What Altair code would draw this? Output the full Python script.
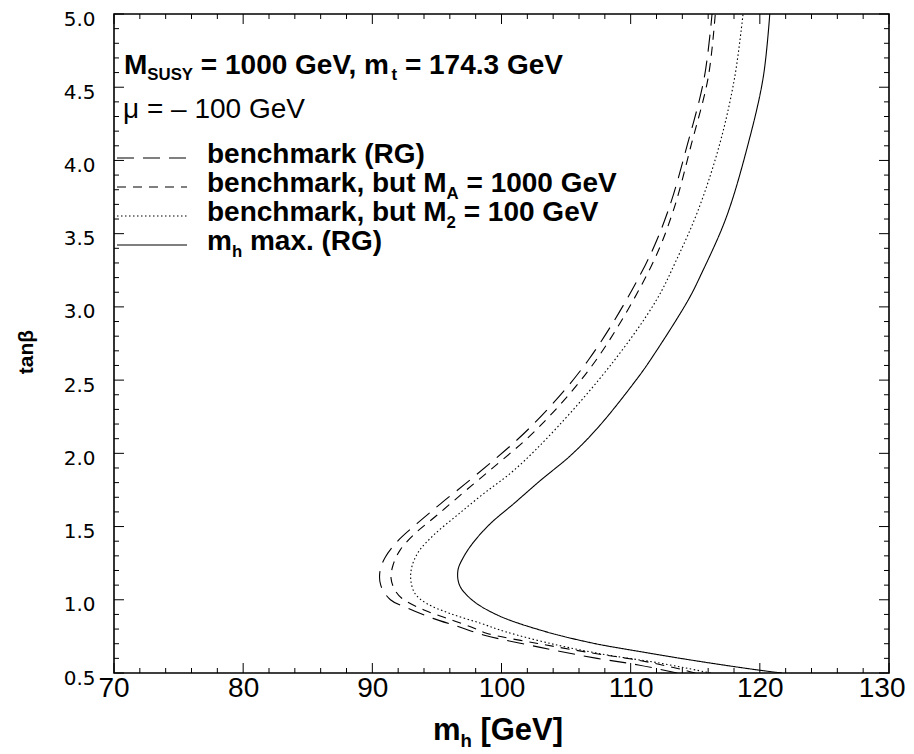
import altair as alt
import pandas as pd

# ---------------- data ----------------
t_bench = [0.5, 0.555, 0.60, 0.675, 0.76, 0.816, 0.873, 0.941, 1.0, 1.10, 1.20, 1.29, 1.395, 1.52, 1.657, 1.85, 2.18, 2.634, 3.28, 3.657, 4.111, 4.566, 5.0]
m_bench = [113.6, 110.6, 107.4, 103.0, 98.6, 96.7, 94.7, 92.8, 91.4, 90.65, 90.6, 91.0, 91.9, 93.45, 95.3, 98.0, 102.25, 106.7, 111.1, 112.9, 114.4, 115.7, 116.3]

t_ma = [0.5, 0.525, 0.584, 0.638, 0.702, 0.77, 0.816, 0.873, 0.930, 1.009, 1.066, 1.146, 1.236, 1.339, 1.452, 1.577, 1.736, 1.884, 2.179, 2.634, 3.28, 3.657, 4.111, 4.566, 5.0]
m_ma = [115.0, 113.9, 110.8, 106.9, 102.8, 98.9, 97.6, 95.8, 94.0, 92.3, 91.75, 91.45, 91.6, 92.15, 93.3, 95.0, 97.1, 99.1, 102.9, 107.3, 111.6, 113.3, 114.7, 116.0, 116.55]

t_m2 = [0.5, 0.57, 0.623, 0.691, 0.782, 0.839, 0.907, 0.975, 1.043, 1.134, 1.225, 1.327, 1.441, 1.577, 1.725, 1.884, 2.179, 2.634, 3.043, 3.316, 3.657, 4.111, 4.566, 5.0]
m_m2 = [116.2, 112.1, 108.2, 104.3, 100.3, 98.4, 96.0, 94.2, 93.3, 92.98, 93.06, 93.57, 94.74, 96.56, 98.62, 100.96, 104.33, 108.73, 111.97, 113.52, 115.21, 116.89, 118.05, 118.70]

t_mh = [0.5, 0.52, 0.577, 0.645, 0.707, 0.793, 0.895, 1.0, 1.10, 1.202, 1.293, 1.395, 1.521, 1.657, 1.816, 1.986, 2.179, 2.498, 2.634, 3.043, 3.225, 3.611, 4.111, 4.566, 5.0]
m_mh = [121.7, 119.9, 115.5, 110.8, 106.9, 103.0, 99.7, 97.7, 96.75, 96.63, 97.07, 97.85, 99.15, 100.96, 103.03, 105.36, 107.5, 110.4, 111.5, 114.43, 115.47, 117.4, 119.09, 120.26, 120.77]

series_keys = ["bench", "ma", "m2", "mhmax"]
legend_labels = [
    [("benchmark (RG)", False)],
    [("benchmark, but M", False), ("A", True), (" = 1000 GeV", False)],
    [("benchmark, but M", False), ("2", True), (" = 100 GeV", False)],
    [("m", False), ("h", True), (" max. (RG)", False)],
]
header1 = [("M", False), ("SUSY", True), (" = 1000 GeV, m", False), ("t", True), (" = 174.3 GeV", False)]
header2 = [("\u03bc = \u2013 100 GeV", False)]
x_title = [("m", False), ("h", True), (" [GeV]", False)]
y_title = "tan\u03b2"

x_major = [70, 80, 90, 100, 110, 120, 130]
x_minor = [v for v in range(72, 130, 2) if v % 10 != 0]
y_major = [0.5, 1.0, 1.5, 2.0, 2.5, 3.0, 3.5, 4.0, 4.5, 5.0]
y_minor = [round(0.5 + 0.1 * i, 1) for i in range(1, 45) if i % 5 != 0]

# ---------------- layout / style ----------------
W, H = 775, 659
X0, X1, Y0, Y1 = 70.0, 130.0, 0.5, 5.0
FONT = "Liberation Sans"
YFONT = "DejaVu Sans"
dash_range = [[17, 9], [9, 7], [1.5, 2.5], [1, 0]]
leg_rows_py = [144, 173, 202, 231]      # pixel rows of the legend samples
leg_sample_px = (3, 73)
leg_text_px = 93


def to_m(px):
    return X0 + px / W * (X1 - X0)


def to_t(py):
    return Y1 - py / H * (Y1 - Y0)


AB = {' ': .278, '(': .333, ')': .333, ',': .278, '.': .278, '=': .584, '[': .333, ']': .333,
      'A': .722, 'G': .778, 'M': .833, 'R': .722, 'S': .667, 'U': .722, 'V': .667, 'Y': .667,
      'a': .556, 'b': .611, 'c': .556, 'e': .556, 'h': .611, 'k': .556, 'm': .889, 'n': .611,
      'r': .389, 't': .333, 'u': .611, 'x': .556}
AR = {' ': .278, '=': .584, 'G': .778, 'e': .556, 'V': .667, '\u03bc': .576}


def tw(s, size, bold=True):
    tab = AB if bold else AR
    return sum(tab.get(c, 0.556) for c in s) * size


def build(parts, x0, y0, size, bold=True, subscale=0.6, subdrop=0.24):
    out = []
    x = x0
    for txt, sub in parts:
        s = size * subscale if sub else size
        y = y0 + (size * subdrop if sub else 0)
        lead = len(txt) - len(txt.lstrip(' '))
        xs_ = x + tw(' ' * lead, s, bold)
        out.append(dict(m=to_m(xs_), t=to_t(y), text=txt.strip(' '), fs=s))
        x += tw(txt, s, bold)
    return out, x - x0


bold_rows = []
r, _ = build(header1, 10, 59.5, 28)
bold_rows += r
for lab, py in zip(legend_labels, leg_rows_py):
    r, _ = build(lab, leg_text_px, py + 5, 28)
    bold_rows += r
reg_rows, _ = build(header2, 9, 103.5, 28, bold=False)
_, wx = build(x_title, 0, 0, 31)
xt_rows, _ = build(x_title, 384 - wx / 2, 726, 31)
bold_rows += xt_rows

rows = []
for k, ts, ms in zip(series_keys, [t_bench, t_ma, t_m2, t_mh], [m_bench, m_ma, m_m2, m_mh]):
    for t, m in zip(ts, ms):
        rows.append(dict(series=k, t=t, m=m))
df = pd.DataFrame(rows)

xs = alt.Scale(domain=[X0, X1], nice=False, zero=False)
ys = alt.Scale(domain=[Y0, Y1], nice=False, zero=False)
dash_scale = alt.Scale(domain=series_keys, range=dash_range)

xa = alt.Axis(values=x_major, ticks=False, tickSize=0, domain=False, grid=False,
              labelFont=FONT, labelFontSize=28, labelColor="black", labelPadding=1,
              labelFlush=True, labelFlushOffset=16, labelOverlap=False, title=None)
ya = alt.Axis(values=y_major, format=".1f", ticks=False, tickSize=0, domain=False, grid=False,
              labelFont=YFONT, labelFontSize=20, labelColor="black", labelPadding=19,
              labelOffset=5, labelFlush=False, labelOverlap=False, title=None)

lines = alt.Chart(df).mark_line(color="black", strokeWidth=1.1, clip=True,
                                interpolate="catmull-rom").encode(
    x=alt.X("m:Q", scale=xs, axis=xa),
    y=alt.Y("t:Q", scale=ys, axis=ya),
    strokeDash=alt.StrokeDash("series:N", scale=dash_scale, legend=None),
    detail="series:N",
    order="t:Q",
)


def xticks(vals, length):
    d = pd.DataFrame({"m": vals})
    b = alt.Chart(d).mark_rule(color="black", strokeWidth=1).encode(
        x=alt.X("m:Q", scale=xs, axis=xa), y=alt.value(H), y2=alt.value(H - length))
    t = alt.Chart(d).mark_rule(color="black", strokeWidth=1).encode(
        x=alt.X("m:Q", scale=xs, axis=xa), y=alt.value(0), y2=alt.value(length))
    return [b, t]


def yticks(vals, length):
    d = pd.DataFrame({"t": vals})
    l = alt.Chart(d).mark_rule(color="black", strokeWidth=1).encode(
        y=alt.Y("t:Q", scale=ys, axis=ya), x=alt.value(0), x2=alt.value(length))
    r_ = alt.Chart(d).mark_rule(color="black", strokeWidth=1).encode(
        y=alt.Y("t:Q", scale=ys, axis=ya), x=alt.value(W), x2=alt.value(W - length))
    return [l, r_]


tick_layers = xticks(x_major, 10) + xticks(x_minor, 5) + yticks(y_major, 10) + yticks(y_minor, 5)

leg_df = pd.DataFrame({"series": series_keys,
                       "t": [to_t(p) for p in leg_rows_py],
                       "m": [to_m(leg_sample_px[0])] * 4,
                       "m2": [to_m(leg_sample_px[1])] * 4})
leg_lines = alt.Chart(leg_df).mark_rule(color="black", strokeWidth=1.1).encode(
    x=alt.X("m:Q", scale=xs, axis=xa), x2="m2:Q",
    y=alt.Y("t:Q", scale=ys, axis=ya),
    strokeDash=alt.StrokeDash("series:N", scale=dash_scale, legend=None),
)


def text_layer(rows_, font, weight):
    return alt.Chart(pd.DataFrame(rows_)).mark_text(
        align="left", baseline="alphabetic", font=font, fontWeight=weight, color="black").encode(
        x=alt.X("m:Q", scale=xs, axis=xa), y=alt.Y("t:Q", scale=ys, axis=ya),
        text="text:N", size=alt.Size("fs:Q", scale=None, legend=None))


t_bold = text_layer(bold_rows, FONT, "bold")
t_reg = text_layer(reg_rows, FONT, "normal")
t_yt = alt.Chart(pd.DataFrame({"text": [y_title]})).mark_text(
    angle=270, align="center", baseline="middle", font=FONT, fontWeight="bold", fontSize=21,
    color="black").encode(x=alt.value(-87), y=alt.value(338), text="text:N")

chart = alt.layer(lines, *tick_layers, leg_lines, t_bold, t_reg, t_yt).properties(
    width=W, height=H,
    padding={"left": 106, "top": 6, "right": 17, "bottom": 81},
    autosize=alt.AutoSizeParams(type="none"),
).configure_view(stroke="black", strokeWidth=1.6)

chart.save("out.html", embed_options={"renderer": "svg", "actions": False})
